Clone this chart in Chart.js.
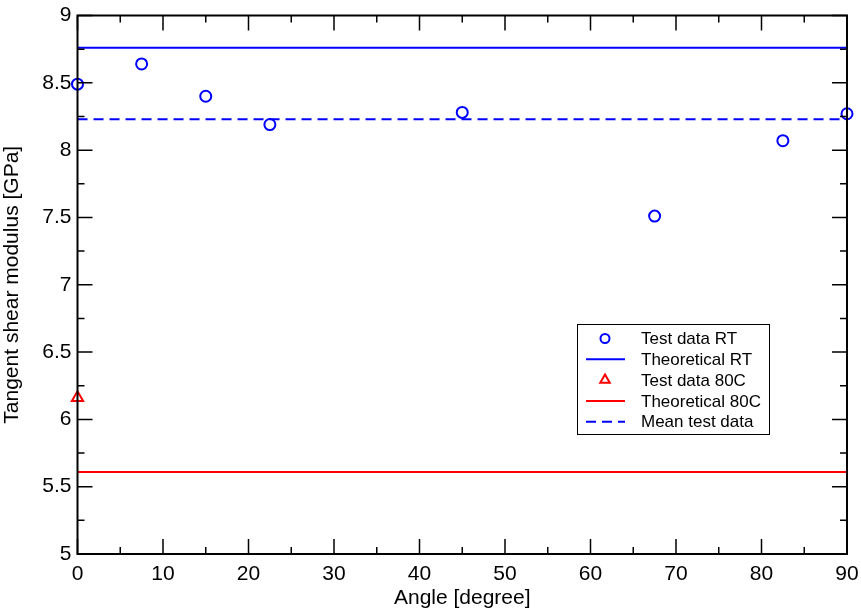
<!DOCTYPE html>
<html lang="en">
<head>
  <meta charset="UTF-8">
  <title>Tangent shear modulus vs angle</title>
  <script src="https://cdn.jsdelivr.net/npm/chart.js"></script>
  <style>
    body { margin: 0; padding: 0; background: #fff; }
    .wrap { width: 861px; height: 611px; position: relative; }
  </style>
</head>
<body>
  <div class="wrap"><canvas id="chart" width="861" height="611"></canvas></div>

  <script>
    // Data
    const angles = [0, 7.5, 15, 22.5, 45, 67.5, 82.5, 90];
    const testRT = [8.49, 8.64, 8.40, 8.19, 8.28, 7.51, 8.07, 8.27];
    const angles80C = [0];
    const test80C = [6.16];
    const theoreticalRT = 8.76;
    const theoretical80C = 5.61;
    const meanTest = 8.23;
    const xRange = [0, 90];

    const FONT = 'Liberation Sans, Arial, sans-serif';

    const hLine = v => xRange.map(x => ({ x: x, y: v }));

    const datasets = [
      {
        label: 'Test data RT',
        data: angles.map((a, i) => ({ x: a, y: testRT[i] })),
        showLine: false, pointStyle: 'circle', pointRadius: 5.5,
        borderColor: '#0000ff', backgroundColor: 'rgba(0,0,0,0)', borderWidth: 2, clip: false
      },
      {
        label: 'Theoretical RT',
        data: hLine(theoreticalRT),
        showLine: true, pointRadius: 0, borderColor: '#0000ff', borderWidth: 2
      },
      {
        label: 'Test data 80C',
        data: angles80C.map((a, i) => ({ x: a, y: test80C[i] })),
        showLine: false, pointStyle: 'triangle', pointRadius: 6.5,
        borderColor: '#ff0000', backgroundColor: 'rgba(0,0,0,0)', borderWidth: 2, clip: false
      },
      {
        label: 'Theoretical 80C',
        data: hLine(theoretical80C),
        showLine: true, pointRadius: 0, borderColor: '#ff0000', borderWidth: 2
      },
      {
        label: 'Mean test data',
        data: hLine(meanTest),
        showLine: true, pointRadius: 0, borderColor: '#0000ff', borderWidth: 2, borderDash: [10, 6]
      }
    ];

    // frame, inward ticks (major + minor, mirrored) and the boxed legend
    const decorations = {
      id: 'decorations',
      afterDatasetsDraw(chart) {
        const { ctx, chartArea: ca, scales } = chart;
        const xs = scales.x, ys = scales.y;
        ctx.save();
        ctx.strokeStyle = '#000';
        ctx.lineWidth = 1.5;
        ctx.beginPath();
        for (let v = 0; v <= 90; v += 5) {
          const px = xs.getPixelForValue(v);
          const len = v % 10 === 0 ? 15 : 7;
          ctx.moveTo(px, ca.bottom); ctx.lineTo(px, ca.bottom - len);
          ctx.moveTo(px, ca.top); ctx.lineTo(px, ca.top + len);
        }
        for (let v = 5; v <= 9.001; v += 0.25) {
          const py = ys.getPixelForValue(v);
          const len = Math.abs(v * 2 - Math.round(v * 2)) < 1e-6 ? 15 : 7;
          ctx.moveTo(ca.left, py); ctx.lineTo(ca.left + len, py);
          ctx.moveTo(ca.right, py); ctx.lineTo(ca.right - len, py);
        }
        ctx.stroke();
        ctx.lineWidth = 2;
        ctx.strokeRect(ca.left, ca.top, ca.right - ca.left, ca.bottom - ca.top);

        // legend
        const bx = 577, by = 324, bw = 192, bh = 110;
        ctx.fillStyle = '#fff';
        ctx.fillRect(bx, by, bw, bh);
        ctx.lineWidth = 1;
        ctx.strokeStyle = '#000';
        ctx.strokeRect(bx + 0.5, by + 0.5, bw, bh);
        ctx.font = '17px ' + FONT;
        ctx.textBaseline = 'middle';
        ctx.textAlign = 'left';
        chart.data.datasets.forEach((ds, i) => {
          const cy = by + 14.5 + i * 20.8;
          const sx = 605;
          ctx.strokeStyle = ds.borderColor;
          ctx.fillStyle = 'rgba(0,0,0,0)';
          ctx.lineWidth = 2;
          if (ds.showLine) {
            ctx.setLineDash(ds.borderDash || []);
            ctx.beginPath();
            ctx.moveTo(sx - 19, cy); ctx.lineTo(sx + 20, cy);
            ctx.stroke();
            ctx.setLineDash([]);
          } else {
            Chart.helpers.drawPoint(ctx, { pointStyle: ds.pointStyle, radius: ds.pointStyle === 'triangle' ? 5.5 : 4.5, borderWidth: 2 }, sx, cy);
          }
          ctx.fillStyle = '#000';
          ctx.fillText(ds.label, 641, cy + 1);
        });
        ctx.restore();
      }
    };

    new Chart(document.getElementById('chart').getContext('2d'), {
      type: 'scatter',
      data: { datasets: datasets },
      options: {
        responsive: false,
        animation: false,
        layout: { padding: { top: 15.5, right: 14, left: 0, bottom: 0 } },
        plugins: { legend: { display: false }, tooltip: { enabled: false } },
        scales: {
          x: {
            type: 'linear', min: 0, max: 90,
            grid: { display: false, drawTicks: false },
            border: { display: false },
            ticks: { stepSize: 10, padding: 8, color: '#000', font: { family: FONT, size: 21 }, maxRotation: 0 },
            title: { display: true, text: 'Angle [degree]', color: '#000', font: { family: FONT, size: 21 }, padding: { top: 0, bottom: 0 } },
            afterFit(s) { s.height = 57; s.paddingLeft = 0; s.paddingRight = 0; }
          },
          y: {
            type: 'linear', min: 5, max: 9,
            grid: { display: false, drawTicks: false },
            border: { display: false },
            ticks: { stepSize: 0.5, padding: 6, color: '#000', font: { family: FONT, size: 21 }, callback: v => String(v) },
            title: { display: true, text: 'Tangent shear modulus [GPa]', color: '#000', font: { family: FONT, size: 21 }, padding: { top: 0, bottom: 0 } },
            afterFit(s) { s.width = 77.5; s.paddingTop = 0; s.paddingBottom = 0; }
          }
        }
      },
      plugins: [decorations]
    });
  </script>
</body>
</html>
